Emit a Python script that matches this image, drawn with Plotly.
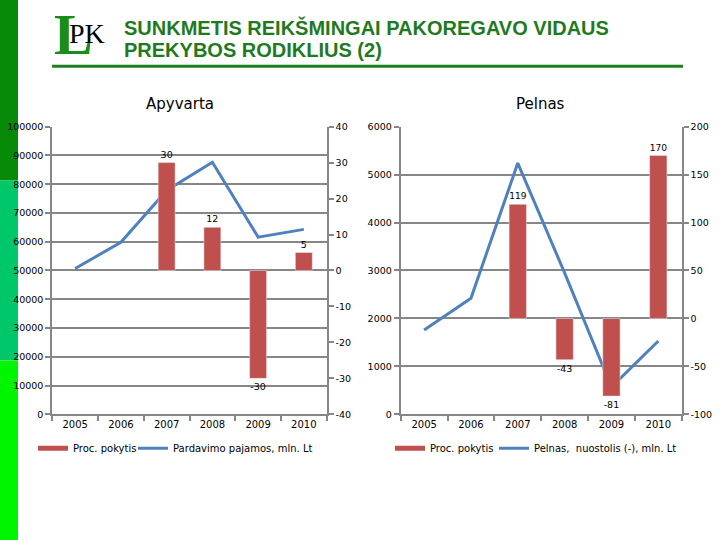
import plotly.graph_objects as go

years = ["2005", "2006", "2007", "2008", "2009", "2010"]

# Apyvarta
sales_change = [None, None, 30, 12, -30, 5]          # Proc. pokytis (right axis)
sales_revenue = [50700, 59800, 77800, 87600, 61600, 64300]  # Pardavimo pajamos, mln. Lt

# Pelnas
profit_change = [None, None, 119, -43, -81, 170]     # Proc. pokytis (right axis)
profit = [1760, 2420, 5240, 2950, 570, 1530]         # Pelnas, nuostolis (-), mln. Lt

# axis ticks
sales_left_ticks = [0, 10000, 20000, 30000, 40000, 50000, 60000, 70000, 80000, 90000, 100000]
sales_right_ticks = [-40, -30, -20, -10, 0, 10, 20, 30, 40]
profit_left_ticks = [0, 1000, 2000, 3000, 4000, 5000, 6000]
profit_right_ticks = [-100, -50, 0, 50, 100, 150, 200]

W = 720
HF = 560          # figure height (slightly taller than the window, offset upward)
TOP_OFFSET = 10   # figure is placed this many px above the page top
BAR = "#c0504d"
LINE = "#4f81bd"
GRID = "#868686"
FONT = "DejaVu Sans"

def px(x):
    return x / W

def py(y):
    # map a target picture y (px) to paper fraction, compensating the capture
    yf = (y - 5) / 0.9815 + TOP_OFFSET
    return 1 - yf / HF

fig = go.Figure()

bar_text_font = dict(size=9.5, color="black", family=FONT)

fig.add_trace(go.Bar(x=years, y=sales_change, name="Proc. pokytis", marker_color=BAR,
                     width=0.37, xaxis="x", yaxis="y2", showlegend=False,
                     text=[("" if v is None else str(v)) for v in sales_change],
                     textposition="outside", cliponaxis=False, textfont=bar_text_font))
fig.add_trace(go.Scatter(x=years, y=sales_revenue, name="Pardavimo pajamos, mln. Lt",
                         mode="lines", line=dict(color=LINE, width=3),
                         xaxis="x", yaxis="y", legend="legend3"))
fig.add_trace(go.Scatter(x=[None], y=[None], name="Proc. pokytis", mode="lines",
                         line=dict(color=BAR, width=5), xaxis="x", yaxis="y2",
                         legend="legend"))

fig.add_trace(go.Bar(x=years, y=profit_change, name="Proc. pokytis", marker_color=BAR,
                     width=0.37, xaxis="x2", yaxis="y4", showlegend=False,
                     text=[("" if v is None else str(v)) for v in profit_change],
                     textposition="outside", cliponaxis=False, textfont=bar_text_font))
fig.add_trace(go.Scatter(x=years, y=profit, name="Pelnas,  nuostolis (-), mln. Lt",
                         mode="lines", line=dict(color=LINE, width=3),
                         xaxis="x2", yaxis="y3", legend="legend4"))
fig.add_trace(go.Scatter(x=[None], y=[None], name="Proc. pokytis", mode="lines",
                         line=dict(color=BAR, width=5), xaxis="x2", yaxis="y4",
                         legend="legend2"))

ytickfont = dict(size=9.5, color="black", family=FONT)
xtickfont = dict(size=10, color="black", family=FONT)
common_y = dict(showline=True, linecolor=GRID, linewidth=2, ticks="outside",
                tickcolor=GRID, tickwidth=2, ticklen=5, tickfont=ytickfont,
                zeroline=False, fixedrange=True, tickmode="array")
common_x = dict(type="category", showline=True, linecolor=GRID, linewidth=2,
                ticks="outside", tickson="boundaries", tickcolor=GRID, tickwidth=2,
                ticklen=5, tickfont=xtickfont, showgrid=False, fixedrange=True)

def tick_kw(vals):
    return dict(tickvals=vals, ticktext=[str(v) for v in vals])

def leg(x):
    return dict(orientation="h", x=px(x), y=py(448), xanchor="left", yanchor="middle",
                font=dict(size=10, color="black", family=FONT), itemwidth=30,
                bgcolor="rgba(0,0,0,0)", borderwidth=0)

yd = [py(414), py(126)]
fig.update_layout(
    width=W, height=HF, margin=dict(l=0, r=0, t=0, b=0),
    paper_bgcolor="white", plot_bgcolor="rgba(0,0,0,0)",
    barmode="overlay",
    xaxis=dict(domain=[px(52.3), px(326.7)], anchor="y", **common_x),
    yaxis=dict(domain=yd, range=[0, 100000], showgrid=True,
               gridcolor=GRID, gridwidth=2, anchor="x", **tick_kw(sales_left_ticks), **common_y),
    yaxis2=dict(range=[-40, 40], overlaying="y", side="right",
                anchor="x", showgrid=False, **tick_kw(sales_right_ticks), **common_y),
    xaxis2=dict(domain=[px(400.7), px(681.7)], anchor="y3", **common_x),
    yaxis3=dict(domain=yd, range=[0, 6000], showgrid=True,
                gridcolor=GRID, gridwidth=2, anchor="x2", **tick_kw(profit_left_ticks), **common_y),
    yaxis4=dict(range=[-100, 200], overlaying="y3", side="right",
                anchor="x2", showgrid=False, **tick_kw(profit_right_ticks), **common_y),
    legend=leg(33),
    legend3=leg(133),
    legend2=leg(390),
    legend4=leg(494),
    showlegend=True,
)

shapes = [
    dict(type="rect", xref="paper", yref="paper", x0=0, x1=px(18), y0=py(180), y1=1,
         fillcolor="#078a07", line_width=0, layer="below"),
    dict(type="rect", xref="paper", yref="paper", x0=0, x1=px(18), y0=py(360), y1=py(180),
         fillcolor="#00c86a", line_width=0, layer="below"),
    dict(type="rect", xref="paper", yref="paper", x0=0, x1=px(18), y0=0, y1=py(360),
         fillcolor="#00f500", line_width=0, layer="below"),
    dict(type="line", xref="paper", yref="paper", x0=px(52), x1=px(683), y0=py(65.5), y1=py(65.5),
         line=dict(color="#1f7f1f", width=3)),
]
fig.update_layout(shapes=shapes)

TITLE_GREEN = "#1f7a1f"
anns = [
    dict(text="<b>SUNKMETIS REIKŠMINGAI PAKOREGAVO VIDAUS</b>", x=px(122), y=py(26.5),
         xanchor="left", yanchor="middle", showarrow=False,
         font=dict(size=20, color=TITLE_GREEN, family="Liberation Sans")),
    dict(text="<b>PREKYBOS RODIKLIUS (2)</b>", x=px(122), y=py(49),
         xanchor="left", yanchor="middle", showarrow=False,
         font=dict(size=20, color=TITLE_GREEN, family="Liberation Sans")),
    dict(text="<b>L</b>", x=px(52), y=py(34), xanchor="left", yanchor="middle", showarrow=False,
         font=dict(size=58, color="#1a8c1a", family="Liberation Serif")),
    dict(text="PK", x=px(67), y=py(33), xanchor="left", yanchor="middle", showarrow=False,
         font=dict(size=28, color="black", family="Liberation Serif")),
    dict(text="Apyvarta", x=px(180), y=py(103), xanchor="center", yanchor="middle",
         showarrow=False, font=dict(size=15, color="black", family=FONT)),
    dict(text="Pelnas", x=px(540), y=py(103), xanchor="center", yanchor="middle",
         showarrow=False, font=dict(size=15, color="black", family=FONT)),
]
for a in anns:
    a["xref"] = "paper"
    a["yref"] = "paper"
fig.update_layout(annotations=anns)

fig.write_html(
    "out.html",
    config={"displayModeBar": False},
    post_script=(
        "document.documentElement.style.margin='0';"
        "document.body.style.margin='0';document.body.style.padding='0';"
        "document.body.style.overflow='hidden';"
        "var d=document.getElementById('{plot_id}');"
        "d.style.position='fixed';d.style.top='-" + str(TOP_OFFSET) + "px';d.style.left='0px';"
    ),
)
